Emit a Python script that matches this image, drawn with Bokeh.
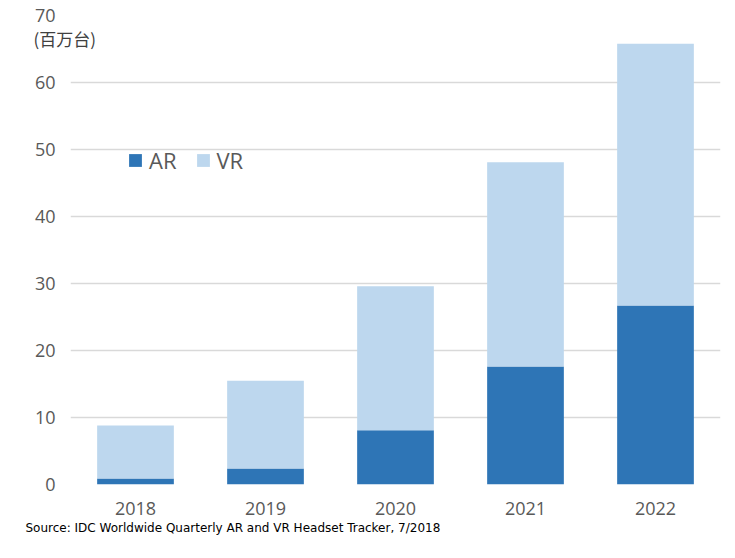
from bokeh.plotting import figure
from bokeh.models import ColumnDataSource, Title, Legend, LegendItem, FactorRange
from bokeh.embed import file_html
from bokeh.resources import INLINE

years = ["2018", "2019", "2020", "2021", "2022"]
ar = [0.9, 2.4, 8.1, 17.6, 26.7]
vr = [7.9, 13.1, 21.5, 30.5, 39.1]
y_ticks = [0, 10, 20, 30, 40, 50, 60, 70]
unit_label = "(百万台)"
source_text = "Source: IDC Worldwide Quarterly AR and VR Headset Tracker, 7/2018"

src = ColumnDataSource(dict(year=years, AR=ar, VR=vr))

p = figure(width=727, height=550, x_range=FactorRange(*years), y_range=(0, 70),
           output_backend="svg", toolbar_location=None,
           min_border_left=70, min_border_right=7, min_border_top=15, min_border_bottom=66)

rs = p.vbar_stack(["AR", "VR"], x="year", width=0.59, source=src,
                  color=["#2e75b6", "#bdd7ee"], line_color=None)

p.outline_line_color = None
p.xgrid.grid_line_color = None
p.ygrid.grid_line_color = "#d9d9d9"
p.ygrid.grid_line_width = 1.5
p.yaxis.ticker = y_ticks
for ax in (p.xaxis[0], p.yaxis[0]):
    ax.axis_line_color = None
    ax.major_tick_line_color = None
    ax.minor_tick_line_color = None
    ax.major_tick_out = 0
    ax.major_label_text_color = "#595959"
    ax.major_label_text_font = "Open Sans"
    ax.major_label_text_font_size = "18px"
p.yaxis.major_label_standoff = 15
p.xaxis.major_label_standoff = 17

legend = Legend(items=[LegendItem(label="AR", renderers=[rs[0]]),
                       LegendItem(label="VR", renderers=[rs[1]])],
                orientation="horizontal", location=(57, 309),
                border_line_color=None, background_fill_alpha=0,
                glyph_width=16, glyph_height=16, label_text_font_size="22px",
                label_text_color="#595959", label_text_font="Open Sans",
                spacing=18, label_standoff=6)
p.add_layout(legend, "center")

p.add_layout(Title(text=unit_label, align="left", offset=-37, standoff=-70,
                   text_font="Noto Sans CJK SC", text_font_size="17px",
                   text_font_style="normal", text_color="#404040"), "above")
p.add_layout(Title(text=source_text, align="left", offset=-45, standoff=3,
                   text_font="DejaVu Sans", text_font_size="12px",
                   text_font_style="normal", text_color="#000000"), "below")

open("out.html", "w").write(file_html(p, INLINE))
